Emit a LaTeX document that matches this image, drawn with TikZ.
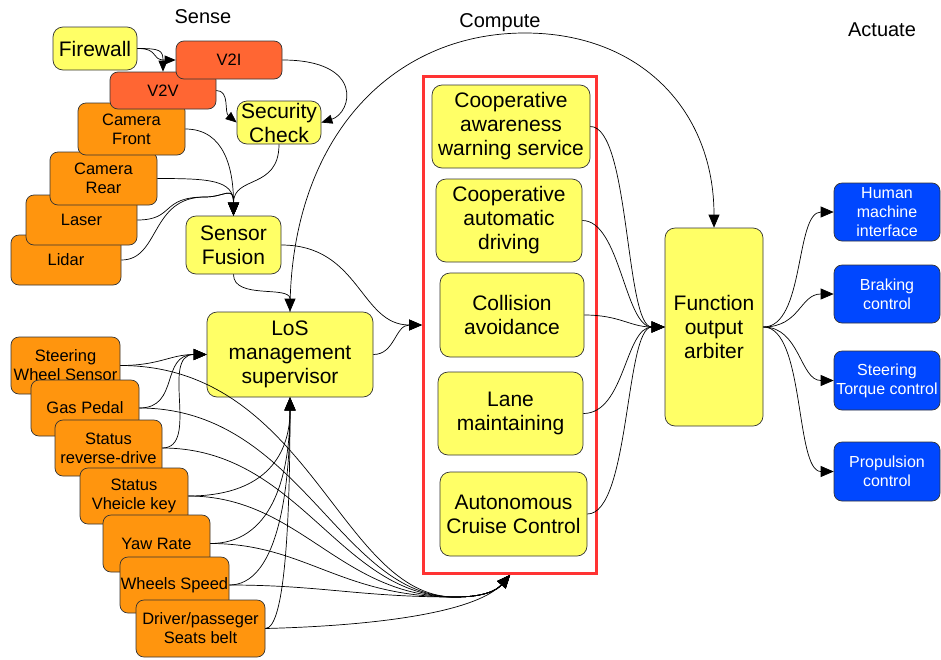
\documentclass[tikz,border=0pt]{standalone}
\usepackage{fontspec}
\setmainfont{Liberation Sans}
\usetikzlibrary{arrows.meta}
\definecolor{yel}{HTML}{FFFF66}
\definecolor{org}{HTML}{FF950E}
\definecolor{rorg}{HTML}{FF6633}
\definecolor{blu}{HTML}{0047FF}
\definecolor{redb}{HTML}{FF3333}
\definecolor{bord}{HTML}{333333}
\tikzset{
 basebox/.style={draw=bord, line width=0.7pt, align=center, inner sep=0pt},
 ybox/.style={basebox, fill=yel, rounded corners=10pt, font=\fontsize{21}{24}\selectfont},
 obox/.style={basebox, fill=org, rounded corners=8pt, font=\fontsize{16.5}{19}\selectfont},
 rbox/.style={basebox, fill=rorg, rounded corners=8pt, font=\fontsize{16.5}{19}\selectfont},
 bbox/.style={basebox, fill=blu, text=white, rounded corners=8pt, font=\fontsize{16}{19}\selectfont},
 conn/.style={line width=0.7pt, black},
 arr/.style={conn, -{Triangle[length=13pt,width=11pt]}},
 sarr/.style={conn, -{Triangle[length=11pt,width=9pt]}},
 title/.style={font=\fontsize{20}{24}\selectfont},
}
\begin{document}
\begin{tikzpicture}[x=1pt,y=-1pt]
\useasboundingbox (0,0) rectangle (941,659);
\fill[white] (0,0) rectangle (941,659);
% titles
\node[title] (tsense) at (203,17) {Sense};
\node[title] (tcomp) at (500,23) {Compute};
\node[title] (tact) at (882,30) {Actuate};
% sense (upper stack)
\node[ybox, minimum width=84pt, minimum height=43pt] (fw) at (95,48.5) {Firewall};
\node[obox, minimum width=110pt, minimum height=50pt] (li) at (66,260) {Lidar};
\node[obox, minimum width=111pt, minimum height=50pt] (la) at (81.5,220) {Laser};
\node[obox, minimum width=107pt, minimum height=53pt] (cr) at (103.5,178.5) {Camera\\Rear};
\node[obox, minimum width=107pt, minimum height=52pt] (cf) at (131.5,129) {Camera\\Front};
\node[rbox, minimum width=106pt, minimum height=37pt] (v2v) at (163,90.5) {V2V};
\node[rbox, minimum width=106pt, minimum height=38pt] (v2i) at (229,60) {V2I};
\node[ybox, minimum width=84pt, minimum height=43pt] (sc) at (279,122.5) {Security\\Check};
\node[ybox, minimum width=95pt, minimum height=58pt] (sf) at (233.5,245) {Sensor\\Fusion};
\node[ybox, minimum width=166pt, minimum height=85pt] (los) at (290,354.5) {LoS\\management\\supervisor};
% sense (lower stack)
\node[obox, minimum width=109pt, minimum height=57pt] (sw) at (65.5,365.5) {Steering\\Wheel Sensor};
\node[obox, minimum width=108pt, minimum height=56pt] (gp) at (85,408) {Gas Pedal};
\node[obox, minimum width=107pt, minimum height=56pt] (srd) at (108.5,448) {Status\\reverse-drive};
\node[obox, minimum width=108pt, minimum height=56pt] (svk) at (134,496) {Status\\Vheicle key};
\node[obox, minimum width=107pt, minimum height=57pt] (yr) at (156.5,543.5) {Yaw Rate};
\node[obox, minimum width=109pt, minimum height=56pt] (ws) at (174.5,585) {Wheels Speed};
\node[obox, minimum width=129pt, minimum height=57pt] (sb) at (200.5,628.5) {Driver/passeger\\Seats belt};
% compute
\node[draw=redb, line width=3pt, minimum width=173pt, minimum height=497pt, inner sep=0pt] (cbox) at (510,325) {};
\node[ybox, minimum width=158pt, minimum height=83pt] (caws) at (511,126.5) {Cooperative\\awareness\\warning service};
\node[ybox, minimum width=146pt, minimum height=83pt] (cad) at (509,220.5) {Cooperative\\automatic\\driving};
\node[ybox, minimum width=144pt, minimum height=84pt] (ca) at (512,315) {Collision\\avoidance};
\node[ybox, minimum width=145pt, minimum height=83pt] (lm) at (510.5,413.5) {Lane\\maintaining};
\node[ybox, minimum width=147pt, minimum height=84pt] (acc) at (513.5,514) {Autonomous\\Cruise Control};
\node[ybox, minimum width=98pt, minimum height=198pt] (arb) at (714,327) {Function\\output\\arbiter};
% actuate
\node[bbox, minimum width=106pt, minimum height=58pt] (hmi) at (887,212) {Human\\machine\\interface};
\node[bbox, minimum width=106pt, minimum height=58pt] (brk) at (887,294) {Braking\\control};
\node[bbox, minimum width=106pt, minimum height=59pt] (stc) at (887,380.5) {Steering\\Torque control};
\node[bbox, minimum width=106pt, minimum height=59pt] (prp) at (887,471.5) {Propulsion\\control};
% connectors: upper sense
\draw[sarr] (fw.east) .. controls (160,48.5) and (150,60) .. (v2i.west);
\draw[sarr] (fw.east) .. controls (160,48.5) and (163,50) .. (v2v.north);
\draw[sarr] (v2i.east) .. controls (365,60) and (352,113) .. (sc.east);
\draw[sarr] (v2v.east) .. controls (230,90.5) and (224,112) .. (sc.west);
\draw[arr] (cf.east) .. controls (225,129) and (233.5,170) .. (sf.north);
\draw[arr] (cr.east) .. controls (210,178.5) and (233.5,180) .. (sf.north);
\draw[arr] (la.east) .. controls (175,220) and (160,197) .. (205,197) .. controls (225,197) and (233.5,185) .. (sf.north);
\draw[arr] (li.east) .. controls (160,260) and (150,197) .. (205,197) .. controls (225,197) and (233.5,185) .. (sf.north);
\draw[arr] (sc.south) .. controls (279,190) and (233.5,175) .. (sf.north);
\draw[arr] (sf.south) .. controls (233.5,300) and (290,285) .. (los.north);
\draw[arr] (sf.east) .. controls (360,245) and (360,325) .. (cbox.west);
\draw[arr] (los.east) .. controls (395,354.5) and (395,325) .. (cbox.west);
\draw[arr] (los.north) .. controls (290,140) and (390,33) .. (525,33) .. controls (640,33) and (714,110) .. (arb.north);
% connectors: lower sense to LoS
\draw[arr] (sw.east) .. controls (160,365.5) and (170,354.5) .. (los.west);
\draw[arr] (gp.east) .. controls (180,408) and (160,354.5) .. (los.west);
\draw[arr] (srd.east) .. controls (200,448) and (160,354.5) .. (los.west);
\draw[arr] (svk.east) .. controls (260,496) and (290,460) .. (los.south);
\draw[arr] (yr.east) .. controls (270,543.5) and (290,480) .. (los.south);
\draw[arr] (ws.east) .. controls (275,585) and (290,500) .. (los.south);
\draw[arr] (sb.east) .. controls (285,628.5) and (290,520) .. (los.south);
% connectors: lower sense to compute box
\draw[arr] (sw.east) .. controls (310,365.5) and (340,597) .. (455,597) .. controls (485,597) and (497,590) .. (cbox.south);
\draw[arr] (gp.east) .. controls (300,408) and (340,597) .. (455,597) .. controls (485,597) and (497,590) .. (cbox.south);
\draw[arr] (srd.east) .. controls (300,448) and (340,597) .. (455,597) .. controls (485,597) and (497,590) .. (cbox.south);
\draw[arr] (svk.east) .. controls (300,496) and (340,597) .. (455,597) .. controls (485,597) and (497,590) .. (cbox.south);
\draw[arr] (yr.east) .. controls (305,543.5) and (340,597) .. (455,597) .. controls (485,597) and (497,590) .. (cbox.south);
\draw[arr] (ws.east) .. controls (320,585) and (360,597) .. (455,597) .. controls (485,597) and (497,590) .. (cbox.south);
\draw[arr] (sb.east) .. controls (400,625) and (480,608) .. (cbox.south);
% compute to arbiter
\draw[arr] (caws.east) .. controls (630,126.5) and (625,327) .. (arb.west);
\draw[arr] (cad.east) .. controls (620,220.5) and (625,327) .. (arb.west);
\draw[arr] (ca.east) .. controls (620,315) and (630,327) .. (arb.west);
\draw[arr] (lm.east) .. controls (625,413.5) and (625,327) .. (arb.west);
\draw[arr] (acc.east) .. controls (630,514) and (625,327) .. (arb.west);
% arbiter to actuators
\draw[arr] (arb.east) .. controls (805,327) and (795,212) .. (hmi.west);
\draw[arr] (arb.east) .. controls (800,327) and (800,294) .. (brk.west);
\draw[arr] (arb.east) .. controls (800,327) and (800,380.5) .. (stc.west);
\draw[arr] (arb.east) .. controls (805,327) and (795,471.5) .. (prp.west);
\end{tikzpicture}
\end{document}
